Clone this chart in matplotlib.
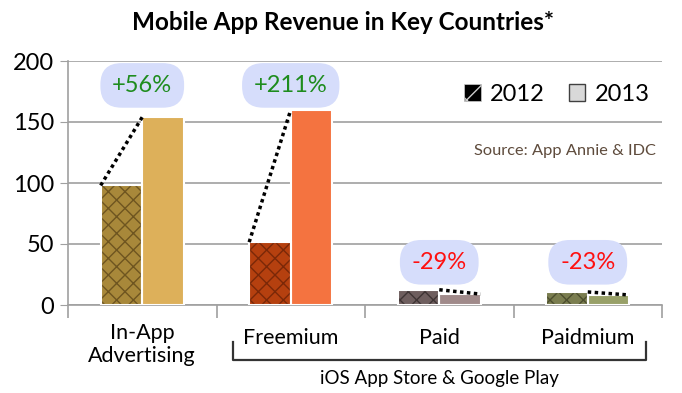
import matplotlib.pyplot as plt
import matplotlib.transforms as mtransforms
from matplotlib.patches import Patch
import numpy as np

plt.rcParams['font.family'] = ['Lato', 'DejaVu Sans']

categories = ['In-App\nAdvertising', 'Freemium', 'Paid', 'Paidmium']
rev_2012 = [98, 51.5, 12.5, 10.7]
rev_2013 = [154, 160, 8.9, 8.2]
changes = ['+56%', '+211%', '-29%', '-23%']

colors_2012 = ['#A8883A', '#B5400F', '#6E5E5E', '#7A7D4F']
colors_2013 = ['#DDB05A', '#F47340', '#A08A8A', '#98A068']
hatch_cols = ['#6E5520', '#7A2808', '#3E3434', '#4C4E2E']

fig = plt.figure(figsize=(6.82, 3.93), dpi=100)
ax = fig.add_axes([68 / 682, 1 - 305 / 393, 594 / 682, 244 / 393])

x = np.arange(len(categories))
w = 0.28

for i in range(len(categories)):
    # 2012 bars: hatched fill, then white outline on top
    ax.bar(x[i] - w / 2, rev_2012[i], w, color=colors_2012[i], hatch='xx',
           edgecolor=hatch_cols[i], linewidth=0, zorder=3)
    ax.bar(x[i] - w / 2, rev_2012[i], w, fill=False, edgecolor='white',
           linewidth=1.5, zorder=4)
    ax.bar(x[i] + w / 2, rev_2013[i], w, color=colors_2013[i],
           edgecolor='white', linewidth=1.5, zorder=3)

    # dotted connector between years
    if rev_2013[i] > rev_2012[i]:
        xs = [x[i] - w, x[i]]
    else:
        xs = [x[i], x[i] + w]
    ax.plot(xs, [rev_2012[i], rev_2013[i]], color='black', linestyle=(0, (1, 1)),
            linewidth=2.5, zorder=5)

    # change label in a rounded box
    up = rev_2013[i] > rev_2012[i]
    ly = 180 if up else 35
    ax.text(x[i], ly, changes[i], ha='center', va='center', fontsize=17,
            color='#1E8C1E' if up else '#FF1010', zorder=6,
            bbox=dict(boxstyle='round,pad=0.5,rounding_size=0.9',
                      facecolor='#D6DDFB', edgecolor='none'))

ax.set_xlim(-0.5, 3.5)
ax.set_ylim(0, 200)
ax.set_yticks([0, 50, 100, 150, 200])
ax.tick_params(axis='y', labelsize=17, length=6, color='#A0A0A0', pad=4)
ax.yaxis.grid(True, color='#A0A0A0', linewidth=1.2, zorder=0)
ax.set_axisbelow(True)

ax.set_xticks([-0.5, 0.5, 1.5, 2.5, 3.5])
ax.set_xticklabels([])
ax.tick_params(axis='x', length=9, color='#A0A0A0', width=1.2)

for s in ['top', 'right']:
    ax.spines[s].set_visible(False)
for s in ['left', 'bottom']:
    ax.spines[s].set_color('#A0A0A0')
    ax.spines[s].set_linewidth(1.2)

trans = mtransforms.blended_transform_factory(ax.transData, ax.transAxes)
for i, lab in enumerate(categories):
    if '\n' in lab:
        ax.text(x[i], -0.075, lab, transform=trans, ha='center', va='top',
                fontsize=15.5, linespacing=1.15)
    else:
        ax.text(x[i], -0.135, lab, transform=trans, ha='center', va='center',
                fontsize=15.5)

# bracket for app-store categories
bx0, bx1 = 0.61, 3.39
ax.plot([bx0, bx0, bx1, bx1], [-0.152, -0.225, -0.225, -0.152], transform=trans,
        color='#333333', linewidth=1.6, clip_on=False)
ax.text((bx0 + bx1) / 2, -0.30, 'iOS App Store & Google Play', transform=trans,
        ha='center', va='center', fontsize=13.5)

# legend
handles = [Patch(facecolor='black', edgecolor='#CCCCCC', hatch='x',
                 linewidth=0.5, label='2012'),
           Patch(facecolor='#D9D9D9', edgecolor='#404040', label='2013')]
ax.legend(handles=handles, loc='upper right', bbox_to_anchor=(0.995, 0.945),
          borderaxespad=0, frameon=False, fontsize=17, handlelength=0.7,
          handleheight=0.7, ncol=2, columnspacing=1.0, handletextpad=0.4)

ax.text(0.99, 0.63, 'Source: App Annie & IDC', transform=ax.transAxes,
        ha='right', va='center', fontsize=11.8, color='#5E4B3C')

fig.text(0.503, 1 - 22 / 393, 'Mobile App Revenue in Key Countries*',
         ha='center', va='center', fontsize=17.5, fontweight='bold')

fig.savefig('out.png', dpi=100)
